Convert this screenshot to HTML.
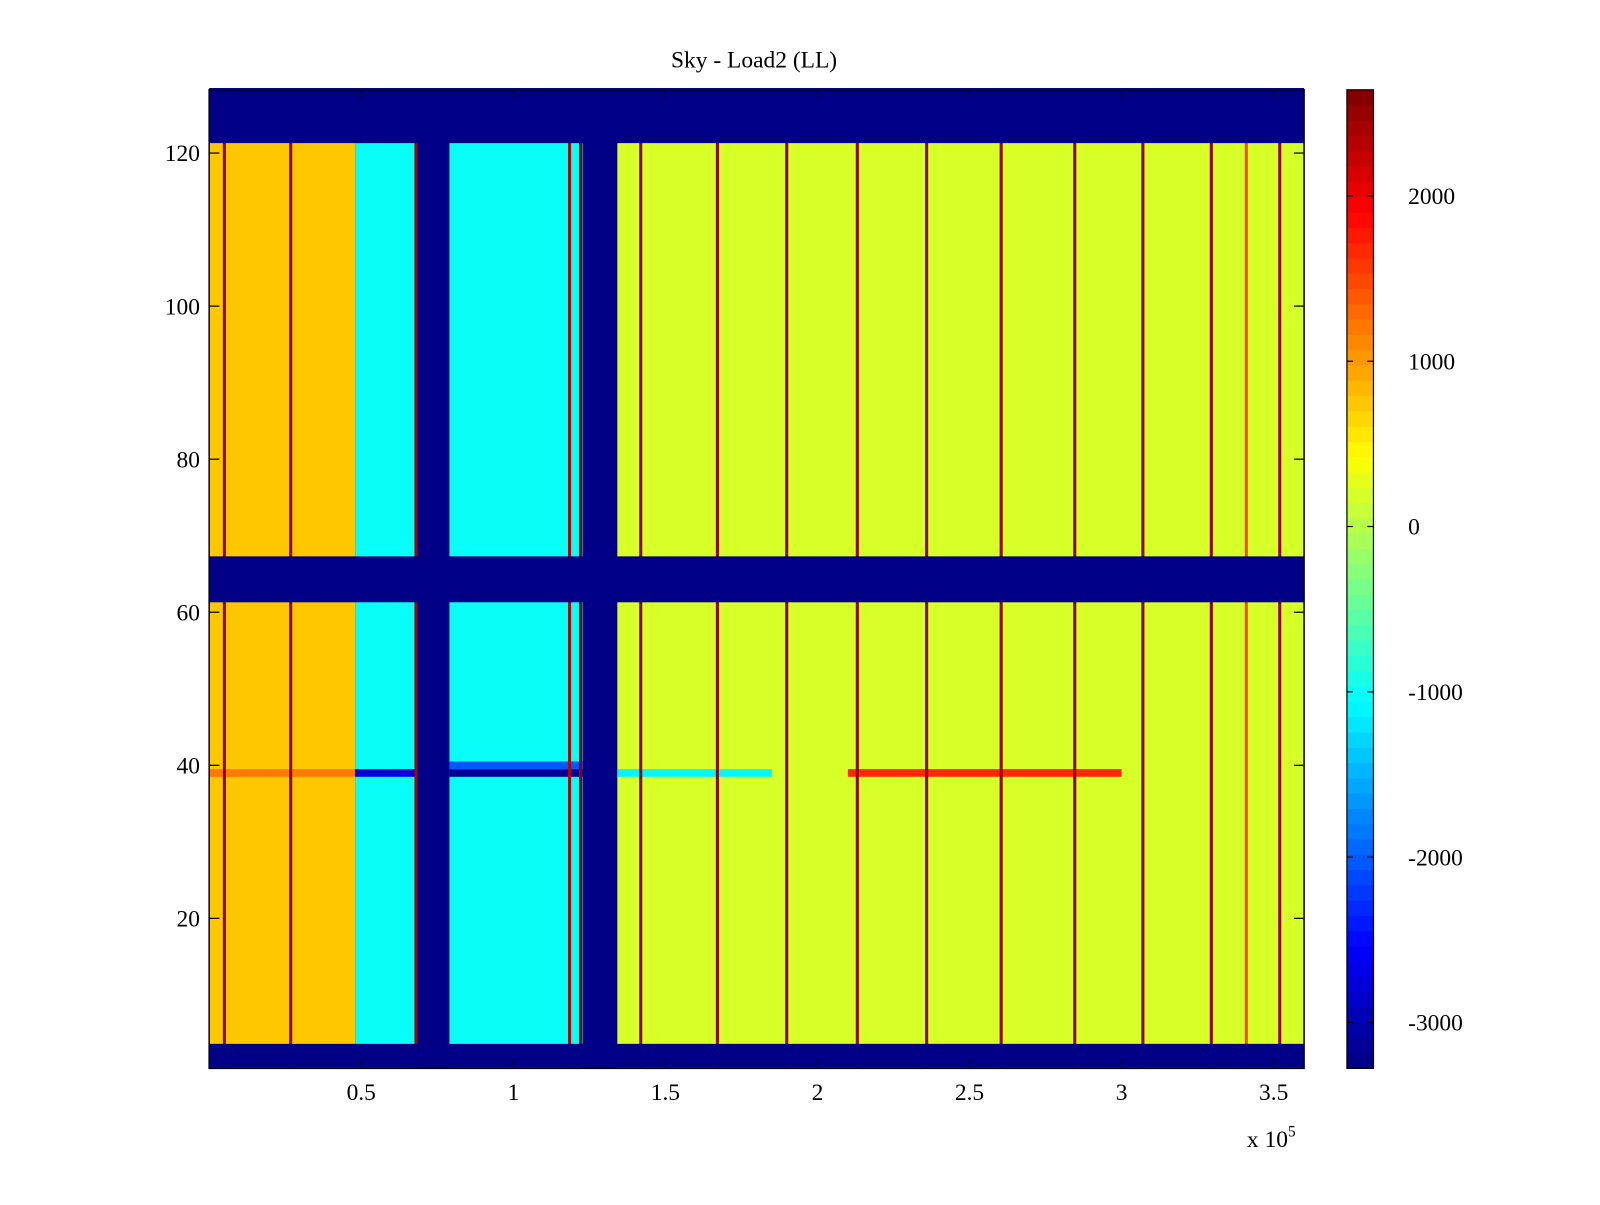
<!DOCTYPE html>
<html><head><meta charset="utf-8"><style>
body{margin:0;background:#fff;}
svg text{font-family:"Liberation Serif",serif;font-size:23px;fill:#000;}
</style></head><body>
<svg width="1600" height="1200" xmlns="http://www.w3.org/2000/svg">
<rect width="1600" height="1200" fill="#fff"/>
<g transform="scale(1.0204)">
<text x="739" y="66" text-anchor="middle">Sky - Load2 (LL)</text>
<g id="heat"></g>
<g id="spikes"></g>
<rect x="205" y="88" width="1073" height="959" fill="none" stroke="#000" stroke-width="1.5"/>
<g id="axes"></g>
<text x="1222" y="1124">x 10<tspan dy="-10" font-size="15">5</tspan></text>
<g id="cbar"></g>
</g>
</svg>
<script>
// x segments (units of 1e5) and base values
const segEdges=[0,0.48,0.685,0.79,1.228,1.342,3.6];
const segValues=[750,-1050,-3278,-1000,-3278,200];
// y bands (rows) that are masked (empty, min value)
const maskBands=[[0.5,3.6],[61.3,67.3],[121.3,128.5]];
// spike line positions and value
const spikeX=[0.05,0.268,0.68,1.185,1.221,1.419,1.671,1.899,2.131,2.359,2.604,2.846,3.07,3.295,3.41,3.52];
const spikeValues=[2500,2500,2400,2300,2500,2500,2500,2500,2500,2500,2500,2500,2500,2500,1500,2500];
// special row 39 overrides: [x0,x1,value]
const row39=[[0,0.48,1200],[0.48,0.685,-2800],[0.79,1.228,-3150],[1.342,1.85,-1100],[2.1,3.0,1700]];
const row40=[[0.79,1.228,-2000]];
const cTicks=[2000,1000,0,-1000,-2000,-3000];
const xTicks=[0.5,1,1.5,2,2.5,3,3.5];
const yTicks=[20,40,60,80,100,120];
const cmin=-3278,cmax=2642;
const X=v=>205+(v/3.6)*1073;
const Y=v=>1050-v*7.5;
const C=v=>1047-(v-cmin)/(cmax-cmin)*959;
function jet(v){let t=(v-cmin)/(cmax-cmin);t=Math.max(0,Math.min(0.9999,t));t=(Math.floor(t*64)+0.5)/64;
const f=x=>Math.max(0,Math.min(1,x));const r=f(1.5-Math.abs(4*t-3)),g=f(1.5-Math.abs(4*t-2)),b=f(1.5-Math.abs(4*t-1));
return `rgb(${Math.round(r*255)},${Math.round(g*255)},${Math.round(b*255)})`;}
const NS="http://www.w3.org/2000/svg";
function rect(p,x,y,w,h,fill,name){const r=document.createElementNS(NS,'rect');r.setAttribute('x',x);r.setAttribute('y',y);r.setAttribute('width',w);r.setAttribute('height',h);r.setAttribute('fill',fill);


p.appendChild(r);return r;}
function line(p,x1,y1,x2,y2,name){const l=document.createElementNS(NS,'line');l.setAttribute('x1',x1);l.setAttribute('y1',y1);l.setAttribute('x2',x2);l.setAttribute('y2',y2);l.setAttribute('stroke','#000');l.setAttribute('stroke-width','1.2');


p.appendChild(l);}
function text(p,x,y,s,anchor,name){const t=document.createElementNS(NS,'text');t.setAttribute('x',x);t.setAttribute('y',y);t.setAttribute('text-anchor',anchor);t.textContent=s;


p.appendChild(t);}
const heat=document.getElementById('heat');
rect(heat,205,88,1073,959,jet(cmin),'heatmap-background');
for(let i=0;i<segValues.length;i++){rect(heat,X(segEdges[i]),88,X(segEdges[i+1])-X(segEdges[i]),959,jet(segValues[i]),'heat-segment');}
const sp=document.getElementById('spikes');
spikeX.forEach((x,i)=>{rect(sp,X(x)-1.5,88,3,959,jet(spikeValues[i]),'spike-line');});
row39.forEach(s=>rect(heat,X(s[0]),Y(39.5),X(s[1])-X(s[0]),7.5,jet(s[2]),'row-39-cell'));
row40.forEach(s=>rect(heat,X(s[0]),Y(40.5),X(s[1])-X(s[0]),7.5,jet(s[2]),'row-40-cell'));
maskBands.forEach(b=>rect(sp,205,Y(b[1]),1073,Y(b[0])-Y(b[1]),jet(cmin),'masked-band'));
const ax=document.getElementById('axes');
xTicks.forEach(t=>{const x=X(t);line(ax,x,1047,x,1037,'x-tick');line(ax,x,88,x,98,'x-tick-top');text(ax,x,1078,String(t),'middle','x-tick-label');});
yTicks.forEach(t=>{const y=Y(t);line(ax,205,y,215,y,'y-tick');line(ax,1278,y,1268,y,'y-tick-right');text(ax,196,y+8,String(t),'end','y-tick-label');});
const cb=document.getElementById('cbar');
const N=64;for(let i=0;i<N;i++){const v0=cmin+(cmax-cmin)*i/N,v1=cmin+(cmax-cmin)*(i+1)/N;rect(cb,1320,C(v1),26,C(v0)-C(v1)+0.5,jet((v0+v1)/2),'colorbar-cell');}
const fr=rect(cb,1320,88,26,959,'none','colorbar-frame');fr.setAttribute('stroke','#000');fr.setAttribute('stroke-width','1.2');
cTicks.forEach(t=>{const y=C(t);line(cb,1320,y,1326,y,'colorbar-tick');line(cb,1346,y,1340,y,'colorbar-tick-right');text(cb,1380,y+8,String(t),'start','colorbar-tick-label');});
</script>
</body></html>
